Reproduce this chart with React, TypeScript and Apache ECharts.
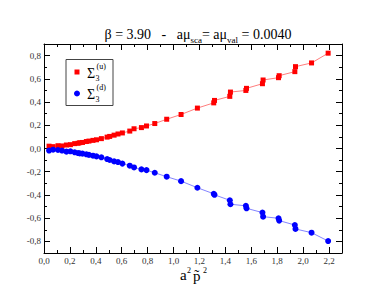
import React, { useEffect, useRef } from "react";
import * as echarts from "echarts";

const xValues = [0.039, 0.070, 0.108, 0.139, 0.173, 0.204, 0.237, 0.263, 0.276, 0.297, 0.327, 0.347, 0.378, 0.405, 0.443, 0.487, 0.507, 0.541, 0.571, 0.605, 0.662, 0.695, 0.752, 0.791, 0.855, 0.947, 1.058, 1.184, 1.310, 1.316, 1.434, 1.439, 1.558, 1.563, 1.686, 1.691, 1.810, 1.815, 1.936, 1.941, 2.065, 2.193];
const sigmaU = [0.020, 0.016, 0.024, 0.022, 0.030, 0.033, 0.042, 0.045, 0.050, 0.052, 0.060, 0.064, 0.070, 0.075, 0.085, 0.098, 0.104, 0.115, 0.125, 0.134, 0.150, 0.170, 0.180, 0.194, 0.215, 0.252, 0.293, 0.348, 0.393, 0.414, 0.449, 0.486, 0.500, 0.518, 0.558, 0.590, 0.610, 0.627, 0.662, 0.705, 0.737, 0.821];
const sigmaD = [-0.018, -0.010, -0.013, -0.018, -0.027, -0.024, -0.033, -0.039, -0.042, -0.044, -0.050, -0.055, -0.062, -0.068, -0.076, -0.091, -0.099, -0.111, -0.117, -0.130, -0.148, -0.163, -0.180, -0.186, -0.209, -0.243, -0.281, -0.338, -0.390, -0.399, -0.446, -0.480, -0.494, -0.515, -0.552, -0.587, -0.601, -0.621, -0.659, -0.693, -0.725, -0.797];

const xTicks = [0, 0.2, 0.4, 0.6, 0.8, 1.0, 1.2, 1.4, 1.6, 1.8, 2.0, 2.2];
const xMinorTicks = [0.1, 0.3, 0.5, 0.7, 0.9, 1.1, 1.3, 1.5, 1.7, 1.9, 2.1];
const yTicks = [-0.8, -0.6, -0.4, -0.2, 0, 0.2, 0.4, 0.6, 0.8];
const yMinorTicks = [-0.7, -0.5, -0.3, -0.1, 0.1, 0.3, 0.5, 0.7];

const X_MIN = 0, X_MAX = 2.3, Y_MIN = -0.9, Y_MAX = 0.9;
const SERIF = "Liberation Serif";

const fmt = (v: number) => v.toFixed(1).replace(".", ",");

function makeAxis(
  dim: "x" | "y",
  gridIndex: number,
  position: string,
  ticks: number[],
  len: number,
  labels: boolean,
  line: boolean
) {
  return {
    type: "value",
    gridIndex,
    position,
    min: dim === "x" ? X_MIN : Y_MIN,
    max: dim === "x" ? X_MAX : Y_MAX,
    axisLine: { show: line, onZero: false, lineStyle: { color: "#000", width: 1 } },
    axisTick: { show: true, inside: true, length: len, customValues: ticks, lineStyle: { color: "#000", width: 1 } },
    axisLabel: labels
      ? { show: true, customValues: ticks, formatter: fmt, margin: 3, fontSize: 9, fontFamily: SERIF, color: "#333" }
      : { show: false },
    splitLine: { show: false },
  };
}

export default function App() {
  const ref = useRef<HTMLDivElement>(null);
  useEffect(() => {
    if (!ref.current) return;
    const chart = echarts.init(ref.current, null, { renderer: "svg" });
    const gridBox = { left: 44, right: 43, top: 44, bottom: 45 };
    const txt = (text: string, x: number, y: number, size: number, va = "middle") => ({
      type: "text",
      x,
      y,
      z: 101,
      style: { text, fontSize: size, fontFamily: SERIF, fill: "#000", verticalAlign: va },
    });
    chart.setOption({
      animation: false,
      backgroundColor: "#fff",
      title: {
        text: "{n|β = 3.90   -   aμ}{s|sca}{n|= aμ}{s|val}{n| = 0.0040}",
        left: 193,
        textAlign: "center",
        top: 20,
        textStyle: {
          fontWeight: "normal",
          fontFamily: SERIF,
          rich: {
            n: { fontSize: 14, fontFamily: SERIF, fontWeight: "normal", color: "#000" },
            s: { fontSize: 9, fontFamily: SERIF, fontWeight: "normal", color: "#000", padding: [10, 0, 0, 0] },
          },
        },
      },
      grid: [
        { ...gridBox, containLabel: false },
        { ...gridBox, containLabel: false },
      ],
      xAxis: [
        makeAxis("x", 0, "bottom", xTicks, 6, true, true),
        makeAxis("x", 0, "top", xTicks, 6, false, true),
        makeAxis("x", 1, "bottom", xMinorTicks, 3, false, false),
        makeAxis("x", 1, "top", xMinorTicks, 3, false, false),
      ],
      yAxis: [
        makeAxis("y", 0, "left", yTicks, 6, true, true),
        makeAxis("y", 0, "right", yTicks, 6, false, true),
        makeAxis("y", 1, "left", yMinorTicks, 3, false, false),
        makeAxis("y", 1, "right", yMinorTicks, 3, false, false),
      ],
      series: [
        {
          name: "u",
          type: "line",
          xAxisIndex: 0,
          yAxisIndex: 0,
          data: xValues.map((x, i) => [x, sigmaU[i]]),
          symbol: "rect",
          symbolSize: 5,
          itemStyle: { color: "#ff0000" },
          lineStyle: { color: "rgba(255,70,70,0.7)", width: 1 },
        },
        {
          name: "d",
          type: "line",
          xAxisIndex: 0,
          yAxisIndex: 0,
          data: xValues.map((x, i) => [x, sigmaD[i]]),
          symbol: "circle",
          symbolSize: 6,
          itemStyle: { color: "#0000ff" },
          lineStyle: { color: "rgba(80,80,255,0.7)", width: 1 },
        },
      ],
      graphic: [
        {
          type: "rect",
          shape: { x: 66, y: 59.5, width: 47, height: 46 },
          style: { fill: "#fff", stroke: "#444", lineWidth: 1 },
          z: 100,
        },
        {
          type: "rect",
          shape: { x: 74.5, y: 69.5, width: 5, height: 5 },
          style: { fill: "#ff0000" },
          z: 101,
        },
        {
          type: "circle",
          shape: { cx: 77, cy: 93.5, r: 3 },
          style: { fill: "#0000ff" },
          z: 101,
        },
        txt("Σ", 87, 73.5, 14),
        txt("3", 95.5, 78, 8),
        txt("(u)", 96.5, 66.5, 8),
        txt("Σ", 87, 94.5, 14),
        txt("3", 95.5, 99.5, 8),
        txt("(d)", 96.5, 87, 8),
        txt("a", 180, 282, 15, "bottom"),
        txt("2", 187, 274, 8, "bottom"),
        txt("p\u0303", 193, 283, 15, "bottom"),
        txt("2", 203, 274, 8, "bottom"),
      ],
    });
    return () => chart.dispose();
  }, []);
  return (
    <div
      ref={ref}
      style={{ position: "fixed", left: 0, top: 0, width: 385, height: 298, background: "#fff" }}
    />
  );
}
